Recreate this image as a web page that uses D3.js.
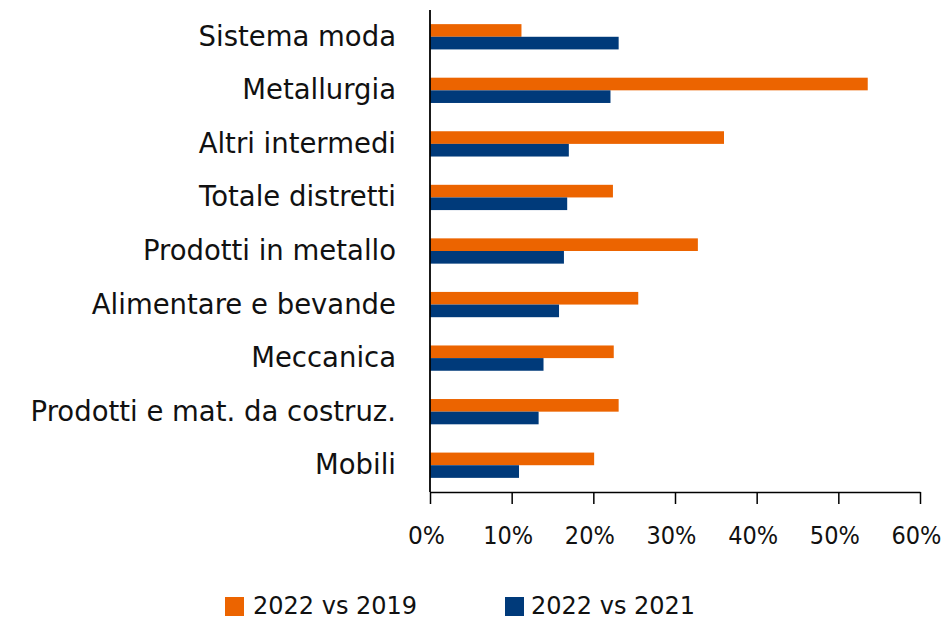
<!DOCTYPE html>
<html>
<head>
<meta charset="utf-8">
<script src="https://cdn.jsdelivr.net/npm/d3@7"></script>
<style>
  body { margin: 0; background: #fff; }
  svg text { font-family: "DejaVu Sans", sans-serif; fill: #111; }
</style>
</head>
<body>
<svg id="chart" width="946" height="619"></svg>
<script>
// categories, top to bottom
let categories = ["Sistema moda", "Metallurgia", "Altri intermedi", "Totale distretti",
    "Prodotti in metallo", "Alimentare e bevande", "Meccanica",
    "Prodotti e mat. da costruz.", "Mobili"];

// values in percent
let vs2019 = [11.2, 53.6, 36.0, 22.4, 32.8, 25.5, 22.5, 23.1, 20.1];
let vs2021 = [23.1, 22.1, 17.0, 16.8, 16.4, 15.8, 13.9, 13.3, 10.9];

let seriesNames = ["2022 vs 2019", "2022 vs 2021"];
let seriesColors = ["#EC6400", "#003A7A"];
let xTicks = [0, 10, 20, 30, 40, 50, 60];

let svg = d3.select("#chart");
let fontSize = 27.5;

let x = d3.scaleLinear()
    .domain([0, 60])
    .range([430, 920]);

let y = d3.scaleBand()
    .domain(categories)
    .range([10, 492])
    .paddingInner(0.528)
    .paddingOuter(0.264);

let ySub = d3.scaleBand()
    .domain([0, 1])
    .range([0, y.bandwidth()]);

let rows = categories.map(function(c, i) {
    return { cat: c, values: [vs2019[i], vs2021[i]] };
});

// bars
let groups = svg.append("g")
    .selectAll("g")
    .data(rows)
    .enter()
    .append("g")
    .attr("transform", function(d) { return "translate(0," + y(d.cat) + ")"; });

groups.selectAll("rect")
    .data(function(d) { return d.values.map(function(v, k) { return { k: k, v: v }; }); })
    .enter()
    .append("rect")
    .attr("x", x(0))
    .attr("y", function(d) { return ySub(d.k); })
    .attr("width", function(d) { return x(d.v) - x(0); })
    .attr("height", ySub.bandwidth())
    .attr("fill", function(d) { return seriesColors[d.k]; });

// category labels
svg.append("g")
    .selectAll("text")
    .data(categories)
    .enter()
    .append("text")
    .attr("x", 396)
    .attr("y", function(d) { return y(d) + y.bandwidth() / 2 + 9; })
    .attr("text-anchor", "end")
    .style("font-size", fontSize + "px")
    .text(function(d) { return d; });

// y axis line
svg.append("line")
    .attr("x1", x(0)).attr("x2", x(0))
    .attr("y1", 10).attr("y2", 492)
    .attr("stroke", "#000")
    .attr("stroke-width", 1.8);

// x axis
let xAxis = d3.axisBottom(x)
    .tickValues(xTicks)
    .tickSize(12)
    .tickSizeOuter(0)
    .tickPadding(10)
    .tickFormat(function(d) { return d + "%"; });

let gx = svg.append("g")
    .attr("transform", "translate(0,492)")
    .call(xAxis);

gx.select(".domain").attr("stroke", "#000").attr("stroke-width", 1.5);
gx.selectAll(".tick line").attr("stroke", "#000").attr("stroke-width", 1.5);
// the original face is narrower, so squeeze the tick labels a little
gx.selectAll(".tick text")
    .attr("x", -4)
    .attr("y", 52)
    .attr("dy", null)
    .style("font-family", "DejaVu Sans, sans-serif")
    .style("font-size", "25px")
    .attr("fill", "#111")
    .attr("lengthAdjust", "spacingAndGlyphs")
    .attr("textLength", function(d) { return d == 0 ? 37 : 50; });

// legend
let legendX = [225, 505];
let legend = svg.append("g")
    .selectAll("g")
    .data(seriesNames)
    .enter()
    .append("g")
    .attr("transform", function(d, i) { return "translate(" + legendX[i] + ",597)"; });

legend.append("rect")
    .attr("width", 19)
    .attr("height", 19)
    .attr("fill", function(d, i) { return seriesColors[i]; });

legend.append("text")
    .attr("x", function(d, i) { return i == 0 ? 28 : 26; })
    .attr("y", 17)
    .style("font-size", "24px")
    .text(function(d) { return d; });
</script>
</body>
</html>
